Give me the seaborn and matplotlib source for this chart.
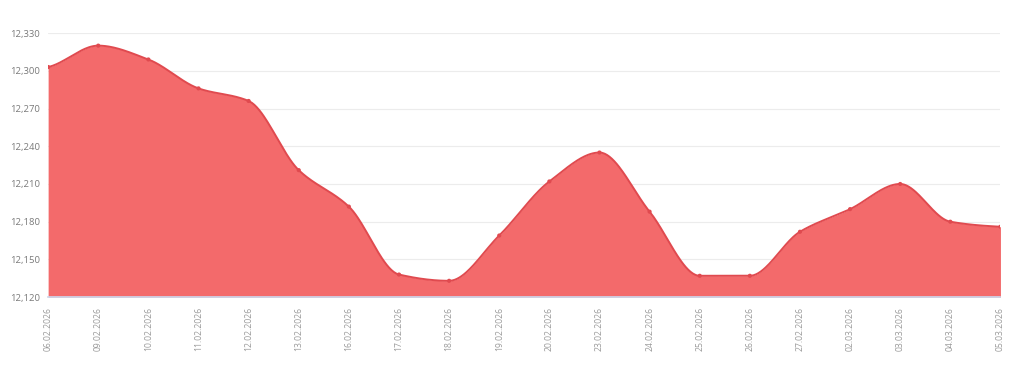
#!/usr/bin/env python
"""
area spline chart of daily values, feb-mar 2026
"""

import numpy as np
import pandas as pd
import seaborn as sns
import matplotlib.pyplot as plt

## data
dates = ["06.02.2026", "09.02.2026", "10.02.2026", "11.02.2026", "12.02.2026",
         "13.02.2026", "16.02.2026", "17.02.2026", "18.02.2026", "19.02.2026",
         "20.02.2026", "23.02.2026", "24.02.2026", "25.02.2026", "26.02.2026",
         "27.02.2026", "02.03.2026", "03.03.2026", "04.03.2026", "05.03.2026"]
values = [12303, 12320, 12309, 12286, 12276,
          12221, 12192, 12138, 12133, 12169,
          12212, 12235, 12188, 12137, 12137,
          12172, 12190, 12210, 12180, 12176]
y_ticks = [12120, 12150, 12180, 12210, 12240, 12270, 12300, 12330]

FILL = "#f36a6b"
LINE = "#e04a4f"


def pchip(x, y, xs):
    """monotone cubic smoothing for drawing the curve between the points"""
    x = np.asarray(x, float)
    y = np.asarray(y, float)
    h = np.diff(x)
    d = np.diff(y) / h
    m = np.zeros_like(y)
    for k in range(1, len(y) - 1):
        if d[k - 1] * d[k] > 0:
            w1 = 2 * h[k] + h[k - 1]
            w2 = h[k] + 2 * h[k - 1]
            m[k] = (w1 + w2) / (w1 / d[k - 1] + w2 / d[k])
    m[0] = d[0] * 0.5
    m[-1] = d[-1] * 0.5
    idx = np.clip(np.searchsorted(x, xs) - 1, 0, len(x) - 2)
    t = (xs - x[idx]) / h[idx]
    h00 = 2 * t**3 - 3 * t**2 + 1
    h10 = t**3 - 2 * t**2 + t
    h01 = -2 * t**3 + 3 * t**2
    h11 = t**3 - t**2
    return (h00 * y[idx] + h10 * h[idx] * m[idx]
            + h01 * y[idx + 1] + h11 * h[idx] * m[idx + 1])


def create_plot():
    sns.set_theme(style="white")
    plt.rcParams["font.family"] = ["Open Sans", "DejaVu Sans"]

    df = pd.DataFrame({"pos": np.arange(len(dates)), "date": dates, "value": values})
    xs = np.linspace(0, len(dates) - 1, 800)
    curve = pd.DataFrame({"pos": xs, "value": pchip(df["pos"], df["value"], xs)})

    fig = plt.figure(figsize=(10.24, 3.8), dpi=100)
    ax = fig.add_axes([0.047, 0.218, 0.930, 0.695])

    ax.fill_between(curve["pos"], curve["value"], y_ticks[0], color=FILL, lw=0, zorder=2)
    sns.lineplot(data=curve, x="pos", y="value", color=LINE, lw=1.4, ax=ax, zorder=3)
    sns.scatterplot(data=df, x="pos", y="value", color=LINE, s=9, edgecolor="none",
                    ax=ax, zorder=4)

    ax.set_xlim(0, len(dates) - 1)
    ax.set_ylim(y_ticks[0], y_ticks[-1])
    ax.set_yticks(y_ticks)
    ax.set_yticklabels(["{:,}".format(v) for v in y_ticks], fontsize=6.8, color="#7a7a7a")
    ax.set_xticks(df["pos"])
    ax.set_xticklabels(dates, rotation=90, fontsize=6.2, color="#9a9a9a", va="top", ha="center")
    ax.set_xlabel("")
    ax.set_ylabel("")

    ax.grid(axis="y", color="#ececec", lw=0.8, zorder=0)
    for side in ["top", "right", "left"]:
        ax.spines[side].set_visible(False)
    ax.spines["bottom"].set_color("#ccd6eb")
    ax.tick_params(axis="x", length=5, color="#ccd6eb", pad=2)
    ax.tick_params(axis="y", length=0, pad=6)

    plt.savefig("out.png", dpi=100)


if __name__ == "__main__":
    create_plot()
